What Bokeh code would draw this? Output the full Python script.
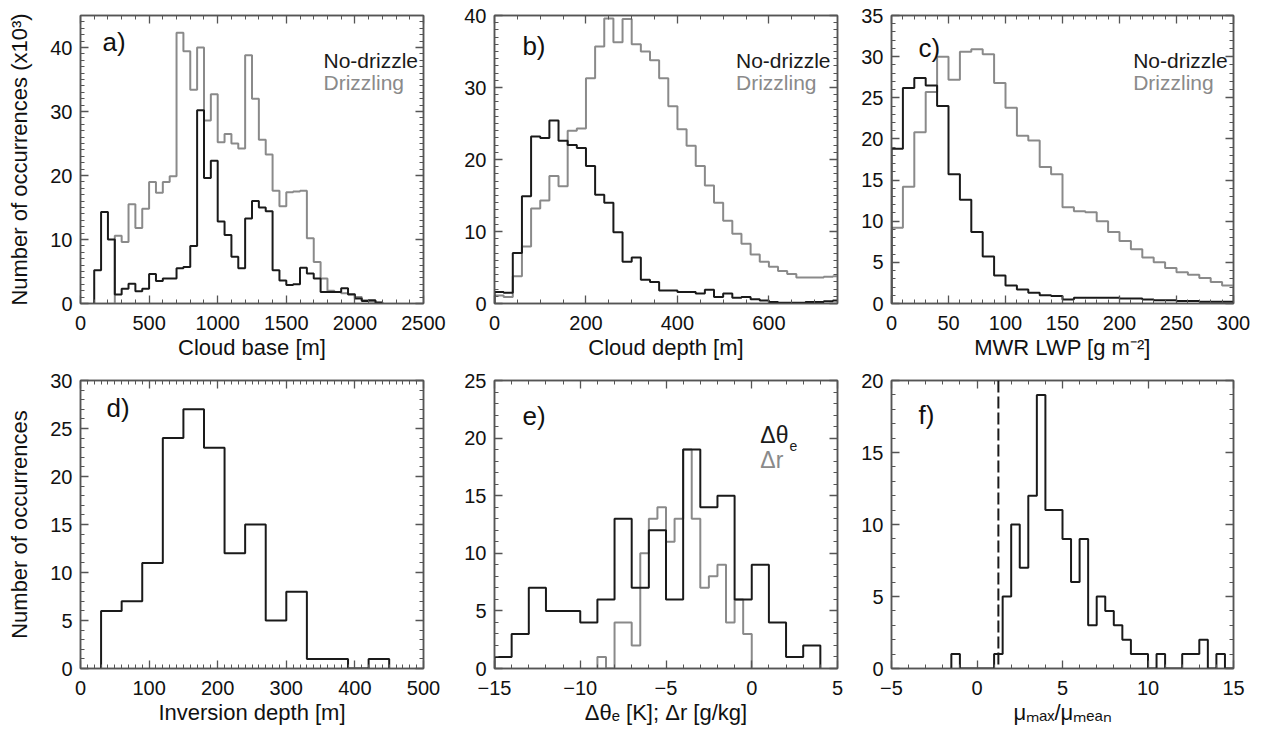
from bokeh.plotting import figure
from bokeh.layouts import column, row
from bokeh.models import Range1d, LinearAxis, SingleIntervalTicker, Label, Span
from bokeh.embed import file_html
from bokeh.resources import INLINE

FONT = "Liberation Sans"
BLACK = "#1a1a1a"
GRAY = "#8a8a8a"
FRAME = "#555555"
TEXT = "#111111"

# ---------------- data ----------------
# a) Cloud base [m], 50 m bins (x10^3 occurrences)
cb_bin = 50
cb_nodrizzle_start = 100
cb_nodrizzle = [5.2, 14.3, 10.0, 1.4, 2.3, 3.1, 1.9, 2.3, 4.6, 3.5, 3.9, 3.9, 5.5, 5.7,
                9.0, 30.2, 19.6, 22.3, 12.8, 10.7, 7.3, 5.5, 13.3, 16.0, 15.0, 14.4,
                5.2, 3.6, 2.9, 3.0, 5.6, 4.7, 3.9, 1.8, 1.8, 1.8, 2.4, 1.4, 0.8, 0.4,
                0.5, 0.15]
cb_drizzle_start = 250
cb_drizzle = [10.6, 9.6, 15.5, 11.8, 14.8, 19.0, 17.3, 19.0, 19.9, 42.3, 39.4, 33.4,
              40.0, 28.6, 32.7, 25.2, 26.5, 25.0, 24.2, 38.8, 32.0, 25.6, 23.3, 17.6,
              15.2, 17.4, 17.5, 17.6, 10.2, 6.5, 3.9, 2.0, 1.8, 1.6, 1.5, 1.0, 0.5,
              0.3, 0.1]

# b) Cloud depth [m], 20 m bins
cd_bin = 20
cd_start = 0
cd_nodrizzle = [1.6, 1.5, 7.0, 14.9, 23.2, 23.0, 25.4, 22.6, 22.0, 21.6, 19.1, 15.1,
                14.0, 9.9, 5.8, 6.4, 3.3, 3.0, 1.8, 1.8, 1.6, 1.6, 1.4, 1.9, 0.9, 1.4,
                0.8, 0.9, 0.6, 0.4, 0.2, 0.1, 0.1, 0.1, 0.2, 0.2, 0.3, 0.4]
cd_drizzle = [1.1, 0.9, 3.8, 7.9, 13.2, 14.3, 17.7, 16.3, 24.0, 24.3, 31.3, 35.7, 39.6,
              36.3, 39.5, 36.0, 35.0, 33.8, 31.3, 27.4, 24.2, 21.9, 19.1, 16.4, 14.0,
              11.5, 9.7, 8.3, 6.8, 5.8, 5.1, 4.5, 4.1, 3.6, 3.6, 3.6, 3.7, 3.8]

# c) MWR LWP [g m-2], 10 g m-2 bins
lwp_bin = 10
lwp_start = 0
lwp_nodrizzle = [18.8, 26.2, 27.4, 26.5, 24.0, 15.7, 12.6, 8.7, 5.7, 3.4, 2.2, 1.7, 1.3,
                 1.0, 0.9, 0.5, 0.7, 0.7, 0.7, 0.7, 0.6, 0.6, 0.5, 0.4, 0.4, 0.3, 0.3,
                 0.2, 0.2, 0.2]
lwp_drizzle = [9.2, 14.2, 20.8, 25.7, 30.0, 27.2, 30.6, 30.9, 30.3, 26.8, 23.8, 20.4,
               19.8, 16.6, 15.7, 11.7, 11.2, 11.1, 10.0, 8.7, 7.6, 6.6, 5.6, 5.0, 4.3,
               3.8, 3.5, 3.1, 2.6, 2.2]

# d) Inversion depth [m], 30 m bins
inv_bin = 30
inv_start = 30
inv_counts = [6, 7, 11, 24, 27, 23, 12, 15, 5, 8, 1, 1, 0, 1]

# e) delta theta_e [K] (1 K bins) and delta r [g/kg] (0.5 g/kg bins)
dth_bin = 1
dth_start = -15
dth_counts = [1, 3, 7, 5, 5, 4, 6, 13, 7, 12, 6, 19, 14, 15, 6, 9, 4, 1, 2]
dr_bin = 0.5
dr_start = -9
dr_counts = [1, 0, 4, 4, 2, 10, 13, 14, 11, 13, 19, 13, 7, 8, 9, 4, 6, 3]

# f) mu_max / mu_mean, 0.5 bins
mu_bin = 0.5
mu_start = -1.5
mu_counts = [1, 0, 0, 0, 0, 1, 5, 10, 7, 12, 19, 11, 11, 9, 6, 9, 3, 5, 4, 3, 2, 1, 1,
             0, 1, 0, 0, 1, 1, 2, 0, 1, 0]
mu_threshold = 1.25


# ---------------- helpers ----------------
def make_fig(width, height, bl, br, bt, bb, xr, yr, xint, xminor, yint, yminor,
             xlabel=None, ylabel=None, x_overrides=None, ylabel_standoff=15,
             xlabel_standoff=2):
    p = figure(width=width, height=height, x_range=Range1d(*xr), y_range=Range1d(*yr),
               output_backend="svg", toolbar_location=None,
               min_border_left=bl, min_border_right=br, min_border_top=bt,
               min_border_bottom=bb, x_axis_type=None, y_axis_type=None)
    p.outline_line_color = FRAME
    p.outline_line_width = 1.5
    p.background_fill_color = "white"
    p.border_fill_color = "white"
    for loc, iv, mn in (("below", xint, xminor), ("above", xint, xminor),
                        ("left", yint, yminor), ("right", yint, yminor)):
        ax = LinearAxis(ticker=SingleIntervalTicker(interval=iv, num_minor_ticks=mn))
        ax.major_tick_in = 8
        ax.major_tick_out = 0
        ax.minor_tick_in = 4
        ax.minor_tick_out = 0
        ax.axis_line_color = FRAME
        ax.axis_line_width = 1.5
        ax.major_tick_line_color = FRAME
        ax.minor_tick_line_color = FRAME
        ax.major_tick_line_width = 1.3
        ax.minor_tick_line_width = 1
        if loc in ("above", "right"):
            # ticks only (IDL box style): labels are not drawn
            ax.major_label_text_font_size = "8px"
            ax.major_label_text_color = None
            ax.major_label_standoff = 0
        else:
            ax.major_label_text_font = FONT
            ax.major_label_text_font_size = "20px"
            ax.major_label_text_color = TEXT
            ax.axis_label_text_font = FONT
            ax.axis_label_text_font_size = "22px"
            ax.axis_label_text_font_style = "normal"
            ax.axis_label_text_color = TEXT
            if loc == "below":
                ax.major_label_standoff = 12
                ax.axis_label_standoff = xlabel_standoff
                if xlabel:
                    ax.axis_label = xlabel
                if x_overrides:
                    ax.major_label_overrides = x_overrides
            else:
                ax.major_label_standoff = 8
                ax.axis_label_standoff = ylabel_standoff
                if ylabel:
                    ax.axis_label = ylabel
        p.add_layout(ax, loc)
    return p


def hist(p, start, width, counts, color, lw=2):
    edges = [start + i * width for i in range(len(counts) + 1)]
    xs = [edges[0]] + edges
    ys = [0] + list(counts) + [0]
    p.step(xs, ys, mode="after", line_color=color, line_width=lw)


def label(p, x, y, text, size="26px", color=TEXT, align="left"):
    p.add_layout(Label(x=x, y=y, text=text, text_font=FONT, text_font_size=size,
                       text_color=color, text_baseline="middle", text_align=align))


# geometry (page has no margin: frames placed at reference pixel positions)
W_A, W_B, W_C = 458, 397, 407
H1, H2 = 366, 366

# ---------------- panel a ----------------
pa = make_fig(W_A, H1, 80, 35, 15, 63, (0, 2500), (0, 45), 500, 5, 10, 10,
              xlabel="Cloud base [m]", ylabel="Number of occurrences (x10\u00b3)")
hist(pa, cb_drizzle_start, cb_bin, cb_drizzle, GRAY)
hist(pa, cb_nodrizzle_start, cb_bin, cb_nodrizzle, BLACK)
label(pa, 160, 40.9, "a)")
label(pa, 1771, 38.0, "No-drizzle", size="21px", color=BLACK)
label(pa, 1771, 34.5, "Drizzling", size="21px", color=GRAY)

# ---------------- panel b ----------------
pb = make_fig(W_B, H1, 36, 18, 15, 63, (0, 750), (0, 40), 200, 4, 10, 10,
              xlabel="Cloud depth [m]")
hist(pb, cd_start, cd_bin, cd_drizzle, GRAY)
hist(pb, cd_start, cd_bin, cd_nodrizzle, BLACK)
label(pb, 61, 35.8, "b)")
label(pb, 528, 33.75, "No-drizzle", size="21px", color=BLACK)
label(pb, 528, 30.7, "Drizzling", size="21px", color=GRAY)

# ---------------- panel c ----------------
pc = make_fig(W_C, H1, 36, 29, 15, 63, (0, 300), (0, 35), 50, 5, 5, 5,
              xlabel="MWR LWP [g m\u207b\u00b2]")
hist(pc, lwp_start, lwp_bin, lwp_drizzle, GRAY)
hist(pc, lwp_start, lwp_bin, lwp_nodrizzle, BLACK)
label(pc, 23.7, 31.1, "c)")
label(pc, 212, 29.5, "No-drizzle", size="21px", color=BLACK)
label(pc, 212, 26.9, "Drizzling", size="21px", color=GRAY)

# ---------------- panel d ----------------
pd_ = make_fig(W_A, H2, 80, 35, 14, 64, (0, 500), (0, 30), 100, 10, 5, 5,
               xlabel="Inversion depth [m]", ylabel="Number of occurrences")
hist(pd_, inv_start, inv_bin, inv_counts, BLACK)
label(pd_, 38, 27.1, "d)")

# ---------------- panel e ----------------
minus = {-15: "\u221215", -10: "\u221210", -5: "\u22125"}
pe = make_fig(W_B, H2, 36, 18, 14, 64, (-15, 5), (0, 25), 5, 5, 5, 5,
              xlabel="\u0394\u03b8\u2091 [K]; \u0394r [g/kg]", x_overrides=minus)
hist(pe, dr_start, dr_bin, dr_counts, GRAY)
hist(pe, dth_start, dth_bin, dth_counts, BLACK)
label(pe, -13.37, 21.9, "e)")
label(pe, 0.5, 20.3, "\u0394\u03b8", size="23px", color=BLACK)
label(pe, 2.2, 19.3, "e", size="14px", color=BLACK)
label(pe, 0.5, 18.1, "\u0394r", size="23px", color=GRAY)

# ---------------- panel f ----------------
pf = make_fig(W_C, H2, 36, 29, 14, 64, (-5, 15), (0, 20), 5, 5, 5, 5,
              xlabel="\u03bc\u2098\u2090\u2093/\u03bc\u2098\u2091\u2090\u2099",
              x_overrides={-5: "\u22125"})
hist(pf, mu_start, mu_bin, mu_counts, BLACK)
pf.add_layout(Span(location=mu_threshold, dimension="height", line_color=BLACK,
                   line_width=2, line_dash="12 4"))
label(pf, -3.42, 17.6, "f)")

layout = column(row(pa, pb, pc), row(pd_, pe, pf))
open("out.html", "w").write(file_html(layout, INLINE))
